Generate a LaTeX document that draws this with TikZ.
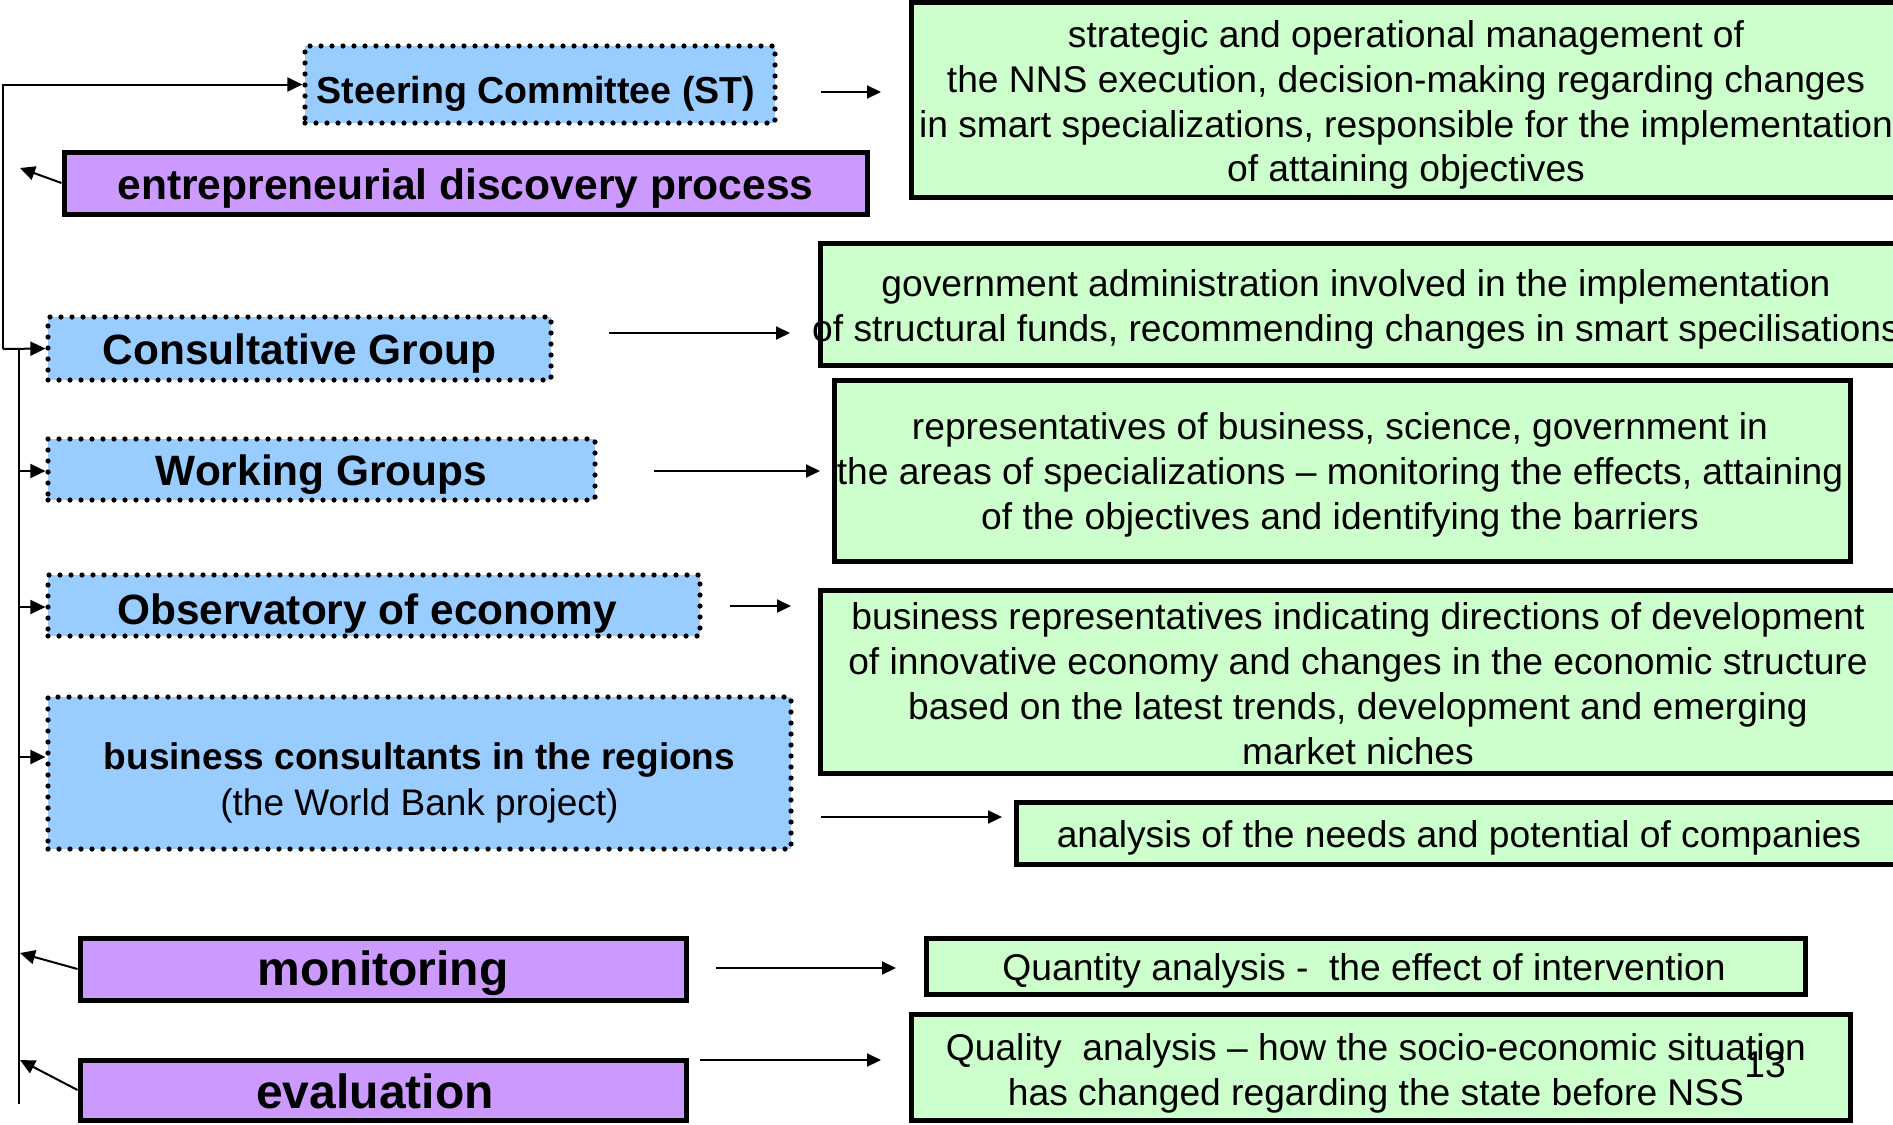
\documentclass[tikz,border=0pt]{standalone}
\usepackage{fontspec}
\setmainfont{Liberation Sans}
\usetikzlibrary{arrows.meta}
\definecolor{bluefill}{HTML}{99CCFF}
\definecolor{purplefill}{HTML}{CC99FF}
\definecolor{greenfill}{HTML}{CCFFCC}
\tikzset{
  bluebox/.style={draw=black, fill=bluefill, line width=2.6pt, line cap=round, dash pattern=on 0pt off 5.5pt, inner sep=0pt},
  purplebox/.style={draw=black, fill=purplefill, line width=2.5pt, inner sep=0pt},
  greenbox/.style={draw=black, fill=greenfill, line width=2.5pt, inner sep=0pt},
  headtext/.style={align=center, inner sep=0pt, font=\fontsize{21.2}{25}\selectfont\bfseries},
  bigtext/.style={align=center, inner sep=0pt, font=\fontsize{24}{28}\selectfont\bfseries},
  greentext/.style={align=center, inner sep=0pt, font=\fontsize{18.6}{22.4}\selectfont},
  conn/.style={line width=1pt, -{Triangle[length=7.5pt,width=7pt]}},
  rconn/.style={line width=1pt, -{Triangle[length=7pt,width=6.5pt]}},
}
\begin{document}
\begin{tikzpicture}[x=0.5pt,y=-0.5pt]
\useasboundingbox (0,0) rectangle (1893,1124);

% left blue/purple boxes
\node[bluebox, minimum width=235pt, minimum height=38.5pt] (steer) at (540,84.5) {};
\node[headtext, font=\fontsize{18.8}{22}\selectfont\bfseries] (steerT) at (536,94) {Steering Committee (ST)};
\node[purplebox, minimum width=401.5pt, minimum height=31pt] (edp) at (465.5,183) {};
\node[headtext, font=\fontsize{21.3}{25}\selectfont\bfseries] (edpT) at (465.5,188) {entrepreneurial discovery process};
\node[bluebox, minimum width=251.5pt, minimum height=31.5pt] (cons) at (299.5,348.5) {};
\node[headtext] (consT) at (299.5,354) {Consultative Group};
\node[bluebox, minimum width=273.5pt, minimum height=30.5pt] (work) at (321.5,469.5) {};
\node[headtext] (workT) at (321.5,475) {Working Groups};
\node[bluebox, minimum width=326pt, minimum height=30.5pt] (obs) at (374,605.5) {};
\node[headtext] (obsT) at (367,614) {Observatory of economy};
\node[bluebox, minimum width=371.5pt, minimum height=76pt] (bus) at (419.5,773) {};
\node[greentext, font=\fontsize{18.5}{23}\selectfont] (busT) at (419.5,783) {\textbf{business consultants in the regions}\\(the World Bank project)};
\node[purplebox, minimum width=303pt, minimum height=31pt] (mon) at (383,969) {};
\node[bigtext] (monT) at (383,973) {monitoring};
\node[purplebox, minimum width=303pt, minimum height=30pt] (eval) at (383,1090) {};
\node[bigtext] (evalT) at (375,1091) {evaluation};

% green boxes
\node[greenbox, minimum width=495pt, minimum height=97.5pt] (g1) at (1406,99.5) {};
\node[greentext] (t1) at (1406,105) {strategic and operational management of\\the NNS execution, decision-making regarding changes\\in smart specializations, responsible for the implementation\\of attaining objectives};
\node[greenbox, minimum width=570pt, minimum height=61pt] (g2) at (1390,304) {};
\node[greentext] (t2) at (1356,309) {government administration involved in the implementation\\of structural funds, recommending changes in smart specilisations};
\node[greenbox, minimum width=508pt, minimum height=90.5pt] (g3) at (1342,470.5) {};
\node[greentext] (t3) at (1340,475) {representatives of business, science, government in\\the areas of specializations -- monitoring the effects, attaining\\of the objectives and identifying the barriers};
\node[greenbox, minimum width=570pt, minimum height=91.5pt] (g4) at (1390,681.5) {};
\node[greentext] (t4) at (1358,683.5) {business representatives indicating directions of development\\of innovative economy and changes in the economic structure\\based on the latest trends, development and emerging\\market niches};
\node[greenbox, minimum width=472pt, minimum height=31pt] (g5) at (1488,833) {};
\node[greentext] (t5) at (1459,838) {analysis of the needs and potential of companies};
\node[greenbox, minimum width=439.5pt, minimum height=28pt] (g6) at (1365.5,966) {};
\node[greentext] (t6) at (1364,971) {Quantity analysis -\ \ the effect of intervention};
\node[greenbox, minimum width=469.5pt, minimum height=53pt] (g7) at (1380.5,1067) {};
\node[greentext] (t7) at (1376,1073) {Quality\ \ analysis -- how the socio-economic situation\\has changed regarding the state before NSS};
\node[greentext] (pg) at (1765,1065) {13};

% right arrows (free-standing)
\coordinate (a1s) at (821,92);  \coordinate (a1e) at (881,92);
\coordinate (a2s) at (609,333); \coordinate (a2e) at (790,333);
\coordinate (a3s) at (654,471); \coordinate (a3e) at (820,471);
\coordinate (a4s) at (730,606); \coordinate (a4e) at (791,606);
\coordinate (a5s) at (821,817); \coordinate (a5e) at (1002,817);
\coordinate (a6s) at (716,968); \coordinate (a6e) at (896,968);
\coordinate (a7s) at (700,1060); \coordinate (a7e) at (881,1060);
\draw[rconn] (a1s) -- (a1e);
\draw[rconn] (a2s) -- (a2e);
\draw[rconn] (a3s) -- (a3e);
\draw[rconn] (a4s) -- (a4e);
\draw[rconn] (a5s) -- (a5e);
\draw[rconn] (a6s) -- (a6e);
\draw[rconn] (a7s) -- (a7e);

% left tree
\coordinate (c0) at (3,349);
\draw[conn] (c0) |- (steer.west);
\draw[conn] (c0) -- (cons.west);
\coordinate (vtop) at (19,349);
\coordinate (vbot) at (19,1104);
\draw[line width=1pt] (vtop) -- (vbot);
\coordinate (vw) at (19,471);
\coordinate (vo) at (19,607);
\coordinate (vb) at (19,757);
\draw[conn] (vw) -- (vw -| work.west);
\draw[conn] (vo) -- (vo -| obs.west);
\draw[conn] (vb) -- (vb -| bus.west);

% purple arrows back to the tree
\coordinate (pe) at (20,168);
\coordinate (pm) at (20,953);
\coordinate (pv) at (20,1060);
\draw[conn] (edp.west) -- (pe);
\draw[conn] (mon.west) -- (pm);
\draw[conn] (eval.west) -- (pv);
\end{tikzpicture}
\end{document}
